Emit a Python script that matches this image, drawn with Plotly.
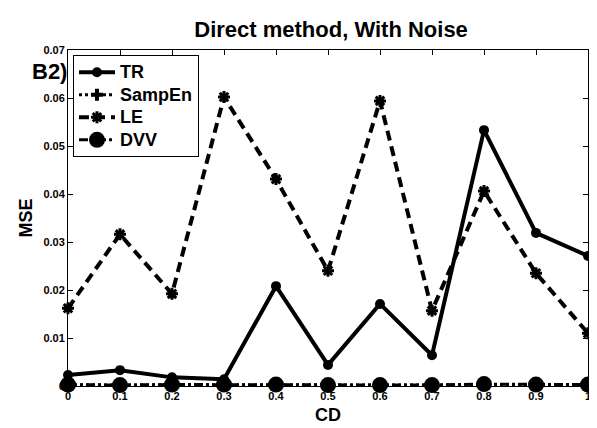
import plotly.graph_objects as go

cd = [0, 0.1, 0.2, 0.3, 0.4, 0.5, 0.6, 0.7, 0.8, 0.9, 1.0]
tr = [0.0023, 0.0033, 0.0018, 0.0014, 0.0208, 0.0044, 0.0171, 0.0064, 0.0533, 0.0319, 0.0271]
sampen = [0.0002, 0.0002, 0.0002, 0.0002, 0.0002, 0.0002, 0.0002, 0.0002, 0.0002, 0.0002, 0.0002]
le = [0.0162, 0.0316, 0.0192, 0.0602, 0.0431, 0.0240, 0.0594, 0.0157, 0.0406, 0.0235, 0.0110]
dvv = [0.0003, 0.0002, 0.0003, 0.0003, 0.0003, 0.0002, 0.0002, 0.0002, 0.0004, 0.0003, 0.0003]

xticks = [0, 0.1, 0.2, 0.3, 0.4, 0.5, 0.6, 0.7, 0.8, 0.9, 1]
xticklabels = ["0", "0.1", "0.2", "0.3", "0.4", "0.5", "0.6", "0.7", "0.8", "0.9", "1"]
yticks = [0, 0.01, 0.02, 0.03, 0.04, 0.05, 0.06, 0.07]
yticklabels = ["0", "0.01", "0.02", "0.03", "0.04", "0.05", "0.06", "0.07"]

FONT = "Liberation Sans, Arial"


def lname(s):
    return "<span style='font-size:18px'><b>%s</b></span>" % s


fig = go.Figure()
fig.add_trace(go.Scatter(x=cd, y=tr, name=lname("TR"), mode="lines+markers",
                         line=dict(color="black", width=4, dash="solid"),
                         marker=dict(symbol="circle", size=10, color="black"),
                         cliponaxis=False))
fig.add_trace(go.Scatter(x=cd, y=sampen, name=lname("SampEn"), mode="lines+markers",
                         line=dict(color="black", width=3, dash="dot"),
                         marker=dict(symbol="cross", size=10, color="black"),
                         cliponaxis=False))
fig.add_trace(go.Scatter(x=cd, y=le, name=lname("LE"), mode="lines+markers",
                         line=dict(color="black", width=4, dash="10px,6px"),
                         marker=dict(symbol="asterisk", size=10, color="black",
                                     line=dict(color="black", width=3)),
                         cliponaxis=False))
fig.add_trace(go.Scatter(x=cd, y=dvv, name=lname("DVV"), mode="lines+markers",
                         line=dict(color="black", width=3, dash="dashdot"),
                         marker=dict(symbol="circle", size=16, color="black"),
                         cliponaxis=False))

axfont = dict(family=FONT, size=11, color="black")
# page body has an 8px margin, so the figure is 8px smaller and margins shifted
fig.update_layout(
    width=589, height=420,
    margin=dict(l=60, r=9, t=42, b=42),
    paper_bgcolor="white", plot_bgcolor="white",
    title=dict(text="<b>Direct method, With Noise</b>", x=0.5485, xanchor="center",
               y=0.95, yanchor="middle",
               font=dict(family=FONT, size=22, color="black")),
    xaxis=dict(range=[0, 1], tickvals=xticks, ticktext=["<b>%s</b>" % t for t in xticklabels],
               ticks="inside", ticklen=5, tickcolor="black", showgrid=False, zeroline=False,
               showline=True, linecolor="black", linewidth=1, mirror="ticks",
               tickfont=axfont, automargin=False,
               title=dict(text="<b>CD</b>", font=dict(family=FONT, size=18, color="black"),
                          standoff=7)),
    yaxis=dict(range=[0, 0.07], tickvals=yticks, ticktext=["<b>%s</b>" % t for t in yticklabels],
               ticks="inside", ticklen=5, tickcolor="black", showgrid=False, zeroline=False,
               showline=True, linecolor="black", linewidth=1, mirror="ticks",
               tickfont=axfont, automargin=False,
               title=dict(text="<b>MSE</b>", font=dict(family=FONT, size=18, color="black"),
                          standoff=6)),
    legend=dict(x=0.0096, y=0.985, xanchor="left", yanchor="top",
                bgcolor="white", bordercolor="black", borderwidth=1,
                font=dict(family=FONT, size=15, color="black"),
                tracegroupgap=0, itemwidth=36),
    showlegend=True,
)
fig.add_annotation(text="<b>B2)</b>", xref="paper", yref="paper", x=0.002, y=0.9375,
                   xanchor="right", yanchor="middle", showarrow=False,
                   font=dict(family=FONT, size=22, color="black"))

fig.write_html("out.html")
